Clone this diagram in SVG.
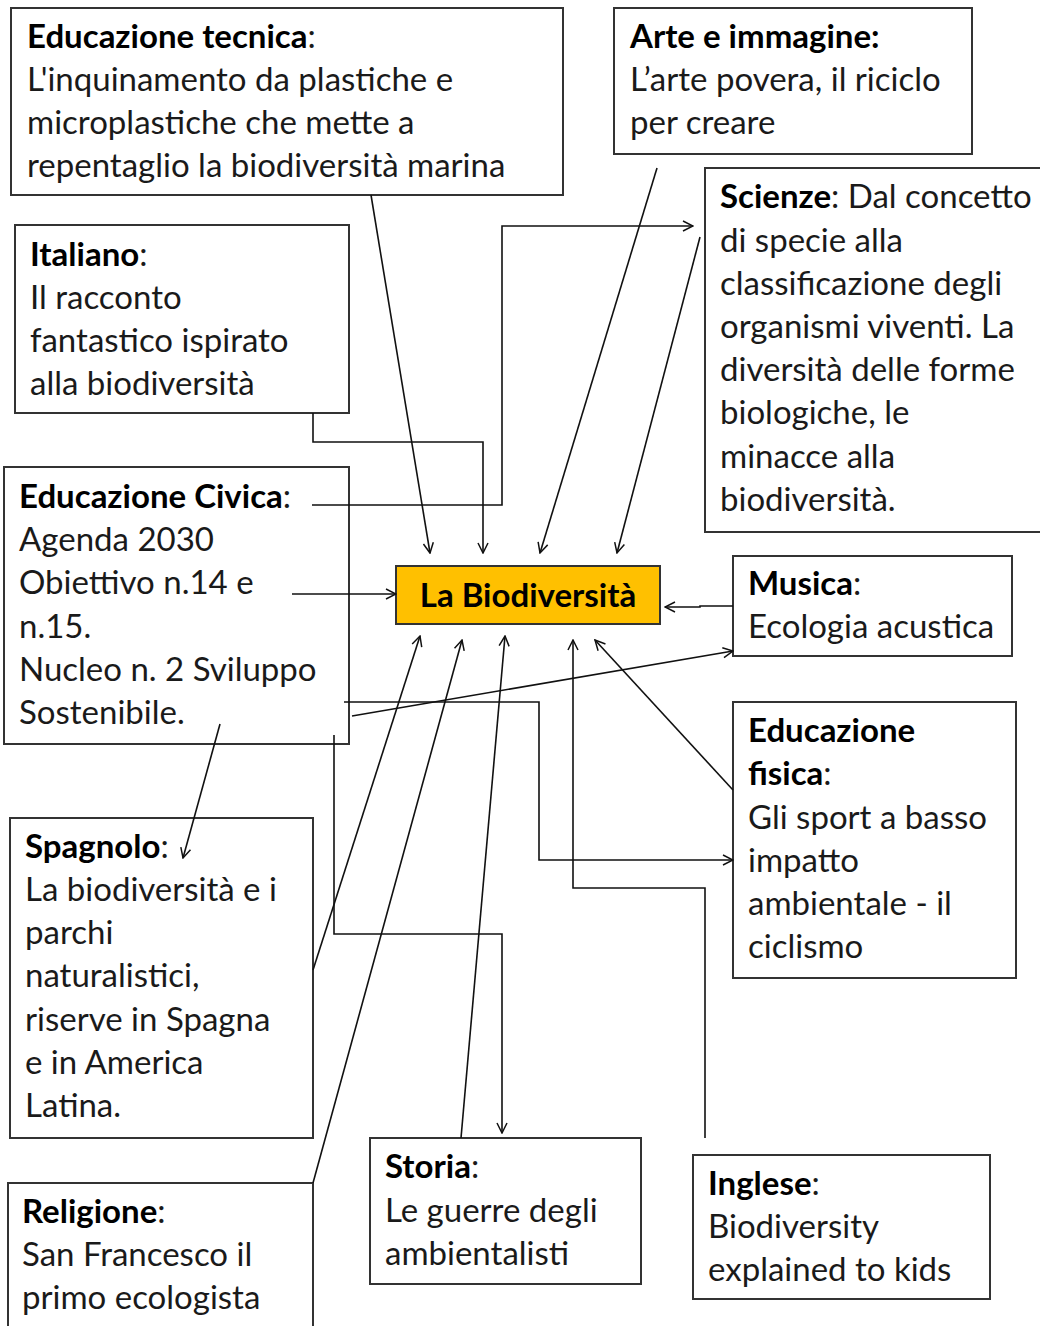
<svg xmlns="http://www.w3.org/2000/svg" width="1040" height="1326" viewBox="0 0 1040 1326">
<defs>
<style>
.box{fill:#fff;stroke:#333;stroke-width:2}
.core{fill:#FFC000;stroke:#333;stroke-width:2}
text{font-family:Lato,"Open Sans","Liberation Sans",sans-serif;font-size:33px;fill:#1a1a1a}
.b{font-weight:bold;fill:#000}
.c{fill:none;stroke:#111;stroke-width:1.6}
</style>
<marker id="ah" viewBox="0 0 12 12" refX="11" refY="6" markerWidth="12" markerHeight="12" markerUnits="userSpaceOnUse" orient="auto">
<path d="M1,1 L11,6 L1,11" fill="none" stroke="#111" stroke-width="1.5"/>
</marker>
</defs>
<rect width="1040" height="1326" fill="#fff"/>

<g id="edtecnica">
<rect class="box" x="11" y="8" width="552" height="187"/>
<text x="27" y="48"><tspan class="b">Educazione tecnica</tspan>:</text>
<text x="27" y="91">L'inquinamento da plastiche e</text>
<text x="27" y="134">microplastiche che mette a</text>
<text x="27" y="177">repentaglio la biodiversità marina</text>
</g>

<g id="arte">
<rect class="box" x="614" y="8" width="358" height="146"/>
<text x="630" y="48" class="b">Arte e immagine:</text>
<text x="630" y="91">L’arte povera, il riciclo</text>
<text x="630" y="134">per creare</text>
</g>

<g id="scienze">
<rect class="box" x="705" y="168" width="345" height="364"/>
<text x="720" y="208"><tspan class="b">Scienze</tspan>: Dal concetto</text>
<text x="720" y="252">di specie alla</text>
<text x="720" y="295">classificazione degli</text>
<text x="720" y="338">organismi viventi. La</text>
<text x="720" y="381">diversità delle forme</text>
<text x="720" y="424">biologiche, le</text>
<text x="720" y="468">minacce alla</text>
<text x="720" y="511">biodiversità.</text>
</g>

<g id="italiano">
<rect class="box" x="15" y="225" width="334" height="188"/>
<text x="30" y="266"><tspan class="b">Italiano</tspan>:</text>
<text x="30" y="309">Il racconto</text>
<text x="30" y="352">fantastico ispirato</text>
<text x="30" y="395">alla biodiversità</text>
</g>

<g id="edcivica">
<rect class="box" x="4" y="467" width="345" height="277"/>
<text x="19" y="508"><tspan class="b">Educazione Civica</tspan>:</text>
<text x="19" y="551">Agenda 2030</text>
<text x="19" y="594">Obiettivo n.14 e</text>
<text x="19" y="638">n.15.</text>
<text x="19" y="681">Nucleo n. 2 Sviluppo</text>
<text x="19" y="724">Sostenibile.</text>
</g>

<g id="biodiversita">
<rect class="core" x="396" y="566" width="264" height="58"/>
<text x="528" y="607" class="b" text-anchor="middle">La Biodiversità</text>
</g>

<g id="musica">
<rect class="box" x="733" y="556" width="279" height="100"/>
<text x="748" y="595"><tspan class="b">Musica</tspan>:</text>
<text x="748" y="638">Ecologia acustica</text>
</g>

<g id="edfisica">
<rect class="box" x="733" y="702" width="283" height="276"/>
<text x="748" y="742" class="b">Educazione</text>
<text x="748" y="785"><tspan class="b">fisica</tspan>:</text>
<text x="748" y="829">Gli sport a basso</text>
<text x="748" y="872">impatto</text>
<text x="748" y="915">ambientale - il</text>
<text x="748" y="958">ciclismo</text>
</g>

<g id="spagnolo">
<rect class="box" x="10" y="818" width="303" height="320"/>
<text x="25" y="858"><tspan class="b">Spagnolo</tspan>:</text>
<text x="25" y="901">La biodiversità e i</text>
<text x="25" y="944">parchi</text>
<text x="25" y="987">naturalistici,</text>
<text x="25" y="1031">riserve in Spagna</text>
<text x="25" y="1074">e in America</text>
<text x="25" y="1117">Latina.</text>
</g>

<g id="storia">
<rect class="box" x="370" y="1138" width="271" height="146"/>
<text x="385" y="1178"><tspan class="b">Storia</tspan>:</text>
<text x="385" y="1222">Le guerre degli</text>
<text x="385" y="1265">ambientalisti</text>
</g>

<g id="inglese">
<rect class="box" x="693" y="1155" width="297" height="144"/>
<text x="708" y="1195"><tspan class="b">Inglese</tspan>:</text>
<text x="708" y="1238">Biodiversity</text>
<text x="708" y="1281">explained to kids</text>
</g>

<g id="religione">
<rect class="box" x="8" y="1183" width="305" height="160"/>
<text x="22" y="1223"><tspan class="b">Religione</tspan>:</text>
<text x="22" y="1266">San Francesco il</text>
<text x="22" y="1309">primo ecologista</text>
</g>

<g id="connectors">
<path class="c" d="M371,195 L430,553" marker-end="url(#ah)"/>
<path class="c" d="M313,413 L313,442 L483,442 L483,553" marker-end="url(#ah)"/>
<path class="c" d="M312,505 L502,505 L502,226 L693,226" marker-end="url(#ah)"/>
<path class="c" d="M657,168 L540,553" marker-end="url(#ah)"/>
<path class="c" d="M700,237 L617,553" marker-end="url(#ah)"/>
<path class="c" d="M292,594 L396,594" marker-end="url(#ah)"/>
<path class="c" d="M733,606 L700,606 L700,607 L665,607" marker-end="url(#ah)"/>
<path class="c" d="M352,716 L733,651" marker-end="url(#ah)"/>
<path class="c" d="M344,702 L539,702 L539,860 L733,860" marker-end="url(#ah)"/>
<path class="c" d="M705,1138 L705,888 L573,888 L573,640" marker-end="url(#ah)"/>
<path class="c" d="M733,790 L595,640" marker-end="url(#ah)"/>
<path class="c" d="M313,970 L420,636" marker-end="url(#ah)"/>
<path class="c" d="M313,1183 L462,640" marker-end="url(#ah)"/>
<path class="c" d="M461,1138 L505,636" marker-end="url(#ah)"/>
<path class="c" d="M334,735 L334,934 L502,934 L502,1133" marker-end="url(#ah)"/>
<path class="c" d="M220,724 L183,858" marker-end="url(#ah)"/>
</g>
</svg>
